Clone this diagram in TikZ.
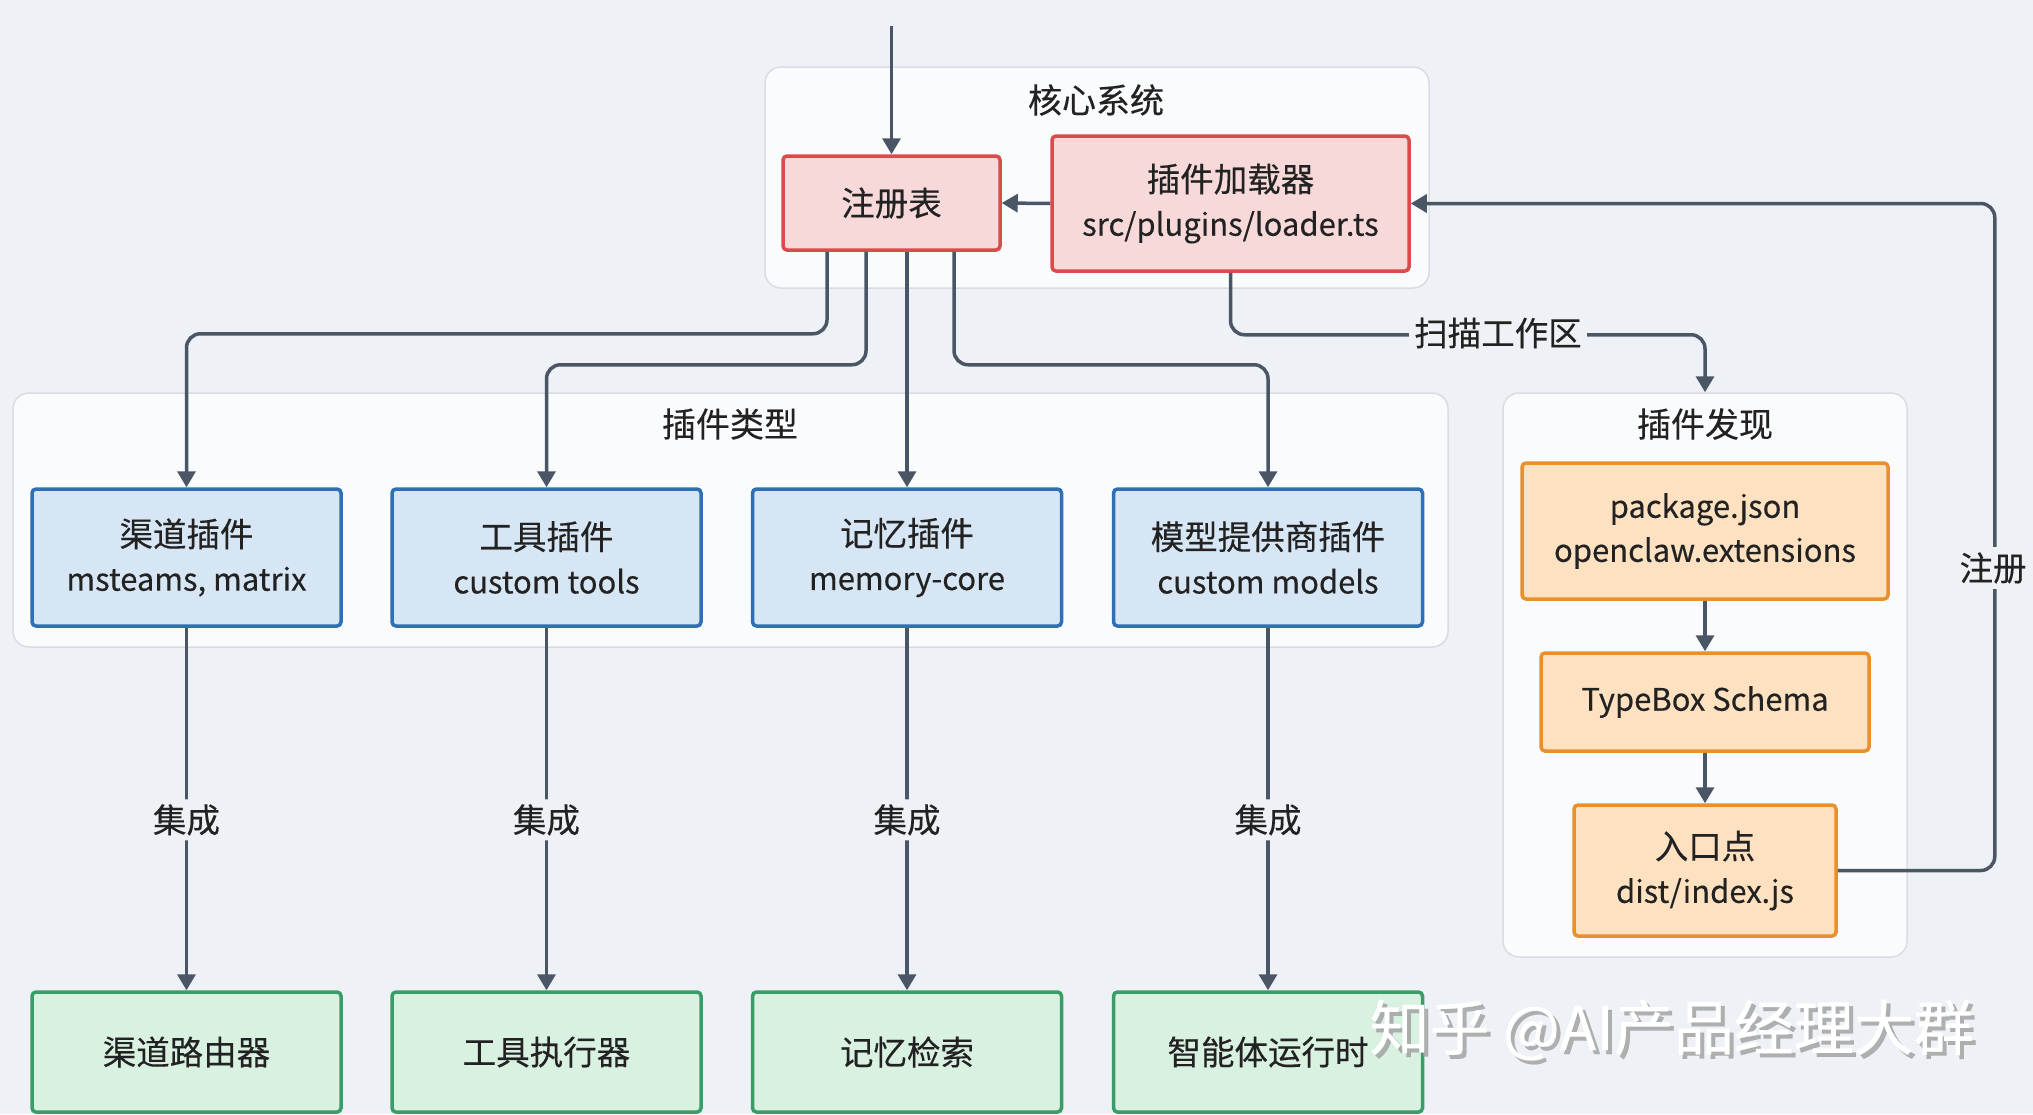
\documentclass[tikz,border=0pt]{standalone}
\usepackage{fontspec}
\setmainfont{Noto Sans CJK SC}[FakeBold=0.3]
\usetikzlibrary{arrows.meta}
\definecolor{bg}{HTML}{EEF1F5}
\definecolor{contfill}{HTML}{FAFBFC}
\definecolor{contdraw}{HTML}{D9DDE3}
\definecolor{redfill}{HTML}{F8D9D9}
\definecolor{reddraw}{HTML}{D94C4C}
\definecolor{bluefill}{HTML}{D7E6F5}
\definecolor{bluedraw}{HTML}{2F6FB5}
\definecolor{orfill}{HTML}{FDE1C0}
\definecolor{ordraw}{HTML}{E98F2B}
\definecolor{grfill}{HTML}{D9F1E1}
\definecolor{grdraw}{HTML}{3B9C68}
\definecolor{conncol}{HTML}{4A5666}
\definecolor{txt}{HTML}{222222}
\newcommand{\zhline}[1]{{\fontsize{33.5}{44}\selectfont #1}}
\tikzset{
  container/.style={draw=contdraw, fill=contfill, line width=1.5pt, rounded corners=16pt, inner sep=0pt},
  ctitle/.style={text=txt, font=\fontsize{34}{40}\selectfont},
  box/.style={line width=3.5pt, rounded corners=4pt, align=center, text=txt, inner sep=0pt,
    font=\fontsize{31}{44}\selectfont},
  redbox/.style={box, draw=reddraw, fill=redfill},
  bluebox/.style={box, draw=bluedraw, fill=bluefill, minimum width=309pt, minimum height=137pt},
  greenbox/.style={box, draw=grdraw, fill=grfill, minimum width=309pt, minimum height=120pt},
  orbox/.style={box, draw=ordraw, fill=orfill},
  conn/.style={draw=conncol, line width=3.5pt, rounded corners=14pt, -{Triangle[width=18pt,length=16pt]}},
  lbl/.style={fill=bg, text=txt, inner sep=5pt, font=\fontsize{33.5}{40}\selectfont},
}
\begin{document}
\begin{tikzpicture}[x=1pt,y=-1pt]
\fill[bg] (0,0) rectangle (2033,1114);
\useasboundingbox (0,0) rectangle (2033,1114);

% containers
\node[container, minimum width=664pt, minimum height=221pt] (core) at (1097,177.5) {};
\node[container, minimum width=1435pt, minimum height=254pt] (types) at (730.5,520) {};
\node[container, minimum width=404pt, minimum height=564pt] (disc) at (1705,675) {};
\node[ctitle] (coret) at (1096,100) {核心系统};
\node[ctitle] (typest) at (730,424) {插件类型};
\node[ctitle] (disct) at (1705,424) {插件发现};

% core nodes
\node[redbox, minimum width=217pt, minimum height=94pt] (reg) at (891.5,203) {\zhline{注册表}};
\node[redbox, minimum width=357pt, minimum height=135pt] (loader) at (1230.5,203.5) {\zhline{插件加载器}\\src/plugins/loader.ts};

% plugin types
\node[bluebox] (t1) at (186.5,557.5) {\zhline{渠道插件}\\msteams, matrix};
\node[bluebox] (t2) at (546.5,557.5) {\zhline{工具插件}\\custom tools};
\node[bluebox] (t3) at (907,557.5) {\zhline{记忆插件}\\memory-core};
\node[bluebox] (t4) at (1268,557.5) {\zhline{模型提供商插件}\\custom models};

% runtime
\node[greenbox] (g1) at (186.5,1052) {\zhline{渠道路由器}};
\node[greenbox] (g2) at (546.5,1052) {\zhline{工具执行器}};
\node[greenbox] (g3) at (907,1052) {\zhline{记忆检索}};
\node[greenbox] (g4) at (1268,1052) {\zhline{智能体运行时}};

% discovery
\node[orbox, minimum width=366pt, minimum height=136pt] (o1) at (1705,531) {package.json\\openclaw.extensions};
\node[orbox, minimum width=328pt, minimum height=98pt] (o2) at (1705,702) {TypeBox Schema};
\node[orbox, minimum width=262pt, minimum height=131pt] (o3) at (1705,870.5) {\zhline{入口点}\\dist/index.js};

% connectors
\coordinate (entry) at (891.5,26);
\draw[conn] (entry) -- (reg.north);
\draw[conn] (loader.west) -- (reg.east);
\draw[conn] ([xshift=-64.5pt]reg.south) -- ++(0,82) -| (t1.north);
\draw[conn] ([xshift=-25.5pt]reg.south) -- ++(0,113) -| (t2.north);
\draw[conn] ([xshift=15.5pt]reg.south) -- (t3.north);
\draw[conn] ([xshift=62.5pt]reg.south) -- ++(0,113) -| (t4.north);

\draw[conn] (t1.south) -- node[lbl, pos=0.53] (i1) {集成} (g1.north);
\draw[conn] (t2.south) -- node[lbl, pos=0.53] (i2) {集成} (g2.north);
\draw[conn] (t3.south) -- node[lbl, pos=0.53] (i3) {集成} (g3.north);
\draw[conn] (t4.south) -- node[lbl, pos=0.53] (i4) {集成} (g4.north);

\draw[conn] (loader.south) -- ++(0,62) -| (disc.north);
\node[lbl] (scan) at (1498,333) {扫描工作区};

\draw[conn] (o1.south) -- (o2.north);
\draw[conn] (o2.south) -- (o3.north);

\draw[conn] (o3.east) -- ++(157,0) |- (loader.east);
\node[lbl] (regl) at (1993,568) {注册};

% watermark
\node[text=gray!75, opacity=0.8, font=\fontsize{60}{66}\selectfont, anchor=west] (wm0) at (1370,1034) {知乎 @AI产品经理大群};
\node[text=white, font=\fontsize{60}{66}\selectfont, anchor=west] (wm) at (1366,1030) {知乎 @AI产品经理大群};
\end{tikzpicture}
\end{document}
